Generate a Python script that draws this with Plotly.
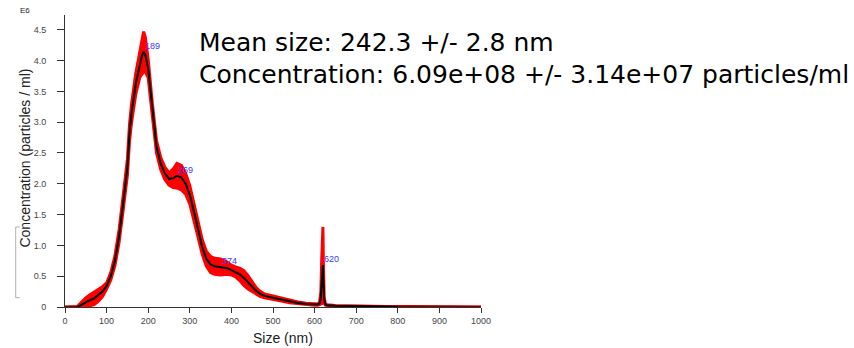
import plotly.graph_objects as go

# ---------------- data ----------------
size_nm = [0, 10, 20, 30, 40, 50, 60, 70, 80, 90, 100, 110, 120, 130, 140, 150, 155, 160, 170, 180,
           185, 189, 193, 200, 210, 220, 230, 240, 250, 260, 269, 280, 290, 300, 310, 320, 330, 340,
           350, 360, 374, 390, 400, 410, 420, 430, 440, 450, 460, 470, 480, 500, 520, 540, 560, 580,
           600, 608, 612, 615, 617, 619, 620, 621, 623, 626, 630, 650, 700, 750, 800, 850, 900, 950, 1000]
mean_conc = [0, 0, 0, 0.0, 0.04, 0.08, 0.11, 0.14, 0.19, 0.25, 0.34, 0.5, 0.75, 1.15, 1.7, 2.27, 2.82, 3.15,
             3.62, 3.95, 4.08, 4.14, 4.1, 3.87, 3.2, 2.6, 2.33, 2.17, 2.08, 2.09, 2.13, 2.1, 2.0, 1.82,
             1.55, 1.25, 0.97, 0.78, 0.69, 0.66, 0.65, 0.63, 0.6, 0.57, 0.53, 0.47, 0.4, 0.33, 0.26, 0.21,
             0.18, 0.15, 0.12, 0.09, 0.065, 0.05, 0.04, 0.04, 0.06, 0.15, 0.4, 0.68, 0.68, 0.45, 0.12,
             0.04, 0.03, 0.02, 0.012, 0.008, 0.005, 0.003, 0.002, 0.001, 0.0]
err_conc = [0, 0, 0, 0.01, 0.04, 0.07, 0.09, 0.1, 0.1, 0.08, 0.05, 0.06, 0.08, 0.1, 0.12, 0.13, 0.14, 0.15,
            0.17, 0.22, 0.3, 0.33, 0.28, 0.15, 0.1, 0.1, 0.1, 0.1, 0.1, 0.15, 0.2, 0.2, 0.17, 0.15, 0.13,
            0.12, 0.12, 0.12, 0.13, 0.13, 0.13, 0.1, 0.08, 0.08, 0.1, 0.12, 0.11, 0.08, 0.05, 0.04, 0.03,
            0.03, 0.025, 0.02, 0.015, 0.01, 0.01, 0.01, 0.02, 0.1, 0.35, 0.62, 0.62, 0.3, 0.05, 0.01,
            0.005, 0.004, 0.003, 0.002, 0.001, 0.0, 0.0, 0.0, 0.0]
peak_sizes = [189, 269, 374, 620]

x_ticks = [0, 100, 200, 300, 400, 500, 600, 700, 800, 900, 1000]
y_ticks = [0, 0.5, 1.0, 1.5, 2.0, 2.5, 3.0, 3.5, 4.0, 4.5]
y_ticklabels = ["0", "0.5", "1.0", "1.5", "2.0", "2.5", "3.0", "3.5", "4.0", "4.5"]

info_lines = ["Mean size: 242.3 +/- 2.8 nm",
              "Concentration: 6.09e+08 +/- 3.14e+07 particles/ml"]

# ---------------- figure ----------------
upper = [m + e for m, e in zip(mean_conc, err_conc)]
lower = [max(m - e, 0) for m, e in zip(mean_conc, err_conc)]

fig = go.Figure()
fig.add_trace(go.Scatter(
    x=size_nm + size_nm[::-1], y=upper + lower[::-1],
    fill="toself", fillcolor="#ff0000", mode="lines",
    line=dict(color="#ff0000", width=3), hoverinfo="skip", showlegend=False))

# black mean line (30-800), dark red segments at the ends
core = [(s, m) for s, m in zip(size_nm, mean_conc) if 30 <= s <= 800]
fig.add_trace(go.Scatter(x=[c[0] for c in core], y=[c[1] for c in core], mode="lines",
                         line=dict(color="#000000", width=2), showlegend=False))
left = [(s, m) for s, m in zip(size_nm, mean_conc) if s <= 30]
right = [(s, m) for s, m in zip(size_nm, mean_conc) if s >= 800]
for seg in (left, right):
    fig.add_trace(go.Scatter(x=[c[0] for c in seg], y=[c[1] for c in seg], mode="lines",
                             line=dict(color="#7a0000", width=2.5), showlegend=False))

annotations = []
for p in peak_sizes:
    m = mean_conc[size_nm.index(p)]
    annotations.append(dict(x=p, y=m, xref="x", yref="y", text=str(p), showarrow=False,
                            xanchor="left", yanchor="middle", xshift=-1, yshift=6,
                            font=dict(family="Arial", size=9, color="#3a3aff")))

annotations.append(dict(x=0.3173, y=0.905, xref="paper", yref="paper", text=info_lines[0],
                        showarrow=False, xanchor="left", yanchor="middle",
                        font=dict(family="DejaVu Sans", size=25, color="#000000")))
annotations.append(dict(x=0.3173, y=0.795, xref="paper", yref="paper", text=info_lines[1],
                        showarrow=False, xanchor="left", yanchor="middle",
                        font=dict(family="DejaVu Sans", size=25, color="#000000")))
annotations.append(dict(x=-0.096, y=1.0137, xref="paper", yref="paper", text="E6",
                        showarrow=False, xanchor="center", yanchor="middle",
                        font=dict(family="Arial", size=8, color="#222222")))
annotations.append(dict(x=-0.096, y=0.5086, xref="paper", yref="paper",
                        text="Concentration (particles / ml)", textangle=-90,
                        showarrow=False, xanchor="center", yanchor="middle",
                        font=dict(family="Arial", size=14, color="#222222")))
annotations.append(dict(x=0.525, y=-0.106, xref="paper", yref="paper", text="Size (nm)",
                        showarrow=False, xanchor="center", yanchor="middle",
                        font=dict(family="Arial", size=14, color="#222222")))

shapes = [
    dict(type="line", xref="paper", yref="paper", x0=-0.1185, x1=-0.1185, y0=0.032, y1=0.274,
         line=dict(color="#b0b0b0", width=1)),
    dict(type="line", xref="paper", yref="paper", x0=-0.1185, x1=-0.109, y0=0.274, y1=0.274,
         line=dict(color="#b0b0b0", width=1)),
    dict(type="line", xref="paper", yref="paper", x0=-0.1185, x1=-0.109, y0=0.032, y1=0.032,
         line=dict(color="#b0b0b0", width=1)),
]

fig.update_layout(
    width=854, height=348,
    margin=dict(l=65, r=373, t=15, b=41),
    paper_bgcolor="white", plot_bgcolor="white",
    showlegend=False,
    annotations=annotations, shapes=shapes,
    xaxis=dict(range=[0, 1000], tickvals=x_ticks, ticks="outside", ticklen=5,
               tickcolor="#333333", showline=True, linecolor="#333333", linewidth=1,
               showgrid=False, zeroline=False,
               tickfont=dict(family="Arial", size=9, color="#444444")),
    yaxis=dict(range=[0, 4.74], tickvals=y_ticks, ticktext=y_ticklabels, ticks="outside",
               ticklen=7, tickcolor="#333333", showline=True, linecolor="#333333", linewidth=1,
               showgrid=False, zeroline=False, ticklabelstandoff=9,
               tickfont=dict(family="Arial", size=9, color="#444444")),
)

fig.write_html("out.html")
